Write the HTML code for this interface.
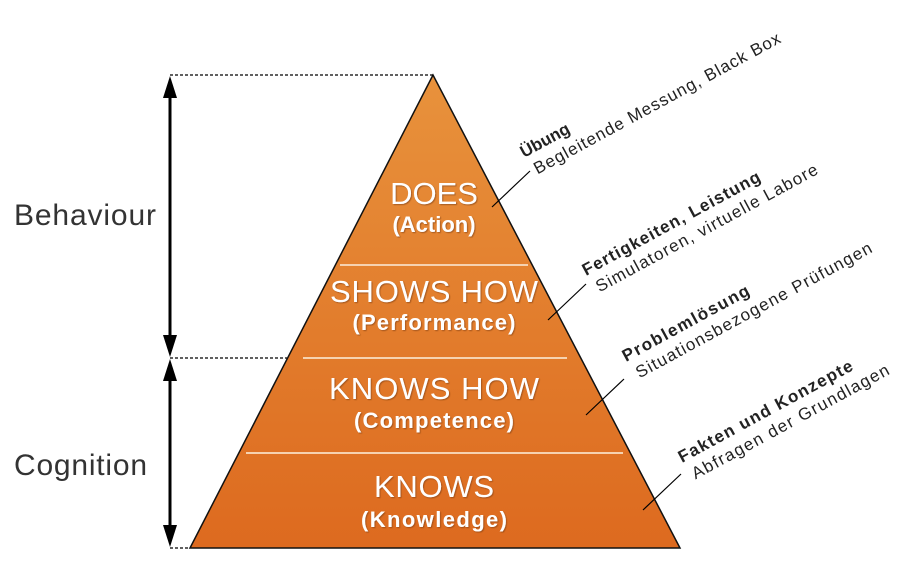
<!DOCTYPE html>
<html><head><meta charset="utf-8"><style>
html,body{margin:0;padding:0;background:#fff;}
svg{display:block;font-family:"Liberation Sans",sans-serif;}
</style></head><body>
<svg width="914" height="565" viewBox="0 0 914 565">
<defs>
<linearGradient id="g" x1="0" y1="0" x2="0" y2="1">
<stop offset="0" stop-color="#e8923c"/>
<stop offset="1" stop-color="#dd6a1f"/>
</linearGradient>
<filter id="s"><feDropShadow dx="1" dy="1" stdDeviation="0.6" flood-color="#7a3a10" flood-opacity="0.6"/></filter>
</defs>
<polygon points="433,75 190,548 680,548" fill="url(#g)" stroke="#111" stroke-width="1.5"/>
<g stroke="#f6d2b0" stroke-width="2">
<line x1="340" y1="265" x2="528" y2="265"/>
<line x1="303" y1="358" x2="567" y2="358"/>
<line x1="246" y1="453" x2="623" y2="453"/>
</g>
<g stroke="#000" stroke-width="1.3" stroke-dasharray="3,2">
<line x1="170" y1="75" x2="433" y2="75"/>
<line x1="170" y1="358" x2="287" y2="358"/>
<line x1="170" y1="548" x2="190" y2="548"/>
</g>
<g stroke="#000" stroke-width="3">
<line x1="170" y1="92" x2="170" y2="340"/>
<line x1="170" y1="376" x2="170" y2="531"/>
</g>
<g fill="#000">
<polygon points="170,76 163,98 177,98"/>
<polygon points="170,357 163,335 177,335"/>
<polygon points="170,359 163,381 177,381"/>
<polygon points="170,547 163,525 177,525"/>
</g>
<text x="14" y="225" font-size="30" fill="#333" textLength="142">Behaviour</text>
<text x="14" y="475" font-size="30" fill="#333" textLength="133">Cognition</text>
<g fill="#fff" text-anchor="middle" filter="url(#s)">
<text x="434" y="204" font-size="31">DOES</text>
<text x="434" y="232" font-size="22" font-weight="bold">(Action)</text>
<text x="434" y="302" font-size="31" textLength="208">SHOWS HOW</text>
<text x="434" y="330" font-size="22" font-weight="bold" textLength="163">(Performance)</text>
<text x="434" y="399" font-size="31" textLength="210">KNOWS HOW</text>
<text x="434" y="428" font-size="22" font-weight="bold" textLength="160">(Competence)</text>
<text x="434" y="497" font-size="31" textLength="120">KNOWS</text>
<text x="434" y="527" font-size="22" font-weight="bold" textLength="146">(Knowledge)</text>
</g>
<g stroke="#000" stroke-width="1.2">
<line x1="492" y1="207" x2="530" y2="171"/>
<line x1="548" y1="320" x2="586" y2="284"/>
<line x1="586" y1="415" x2="624" y2="379"/>
<line x1="643" y1="510" x2="681" y2="474"/>
</g>
<g fill="#222" font-size="17">
<g transform="translate(524,158) rotate(-28.5)"><text font-weight="bold">Übung</text><text x="4" y="21" textLength="278">Begleitende Messung, Black Box</text></g>
<g transform="translate(586,276) rotate(-28.5)"><text font-weight="bold" textLength="200">Fertigkeiten, Leistung</text><text x="4" y="21" textLength="250">Simulatoren, virtuelle Labore</text></g>
<g transform="translate(626,362) rotate(-28.5)"><text font-weight="bold" textLength="142">Problemlösung</text><text x="4" y="21" textLength="266">Situationsbezogene Prüfungen</text></g>
<g transform="translate(682,463) rotate(-28.5)"><text font-weight="bold" textLength="196">Fakten und Konzepte</text><text x="4" y="21" textLength="222">Abfragen der Grundlagen</text></g>
</g>
</svg>
</body></html>
